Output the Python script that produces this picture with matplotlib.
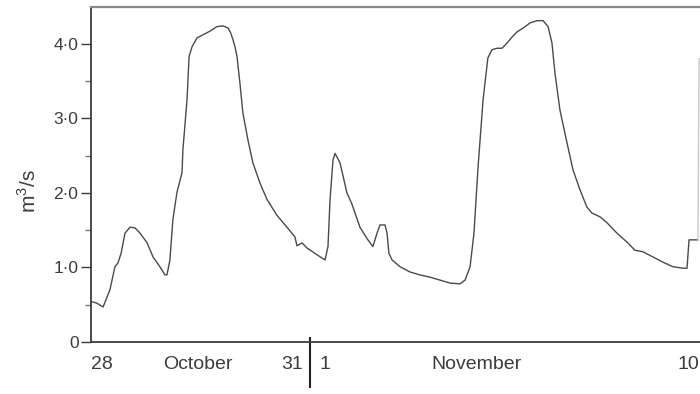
import matplotlib
matplotlib.use("Agg")
import matplotlib.pyplot as plt
import matplotlib.transforms as mtransforms

# hours since 00:00 on 28 October
hours = [0.4, 2.6, 5.3, 8.3, 10.5, 11.8, 13.2, 14.9, 17.1, 19.3, 21.5, 24.6,
         27.2, 30.2, 32.4, 33.3, 34.6, 35.9, 37.7, 39.9, 40.3, 42.1, 43.0,
         44.3, 46.5, 49.1, 52.2, 55.2, 57.9, 60.1, 61.2, 62.3, 63.2, 64.0,
         65.3, 66.6, 68.8, 71.0, 74.1, 77.2, 81.5, 85.9, 89.4, 90.3, 92.5,
         94.7, 99.1, 102.6, 103.9, 104.8, 106.1, 107.0, 109.2, 112.2, 114.4,
         117.9, 121.4, 123.6, 125.4, 126.7, 128.9, 129.8, 130.6, 132.0, 135.5,
         139.8, 144.2, 148.6, 153.0, 157.4, 161.8, 164.0, 166.2, 167.9,
         169.7, 171.9, 174.0, 175.8, 178.0, 180.2, 182.4, 184.6, 186.8,
         189.4, 192.5, 195.5, 198.2, 200.4, 202.1, 203.4, 205.6, 208.7,
         211.3, 214.4, 217.4, 219.6, 223.1, 226.2, 230.6, 235.0, 238.5,
         242.0, 246.4, 250.8, 255.1, 259.5, 261.3, 262.2, 264.8, 266.1]
flow = [0.54, 0.52, 0.47, 0.70, 1.01, 1.06, 1.19, 1.46, 1.54, 1.53, 1.46, 1.33,
        1.14, 1.01, 0.90, 0.90, 1.10, 1.64, 2.01, 2.27, 2.58, 3.25, 3.83,
        3.96, 4.08, 4.12, 4.17, 4.23, 4.24, 4.21, 4.15, 4.05, 3.95, 3.83,
        3.47, 3.07, 2.71, 2.40, 2.13, 1.91, 1.70, 1.54, 1.41, 1.29, 1.33,
        1.26, 1.17, 1.10, 1.28, 1.91, 2.44, 2.53, 2.40, 2.00, 1.85,
        1.54, 1.37, 1.28, 1.46, 1.57, 1.57, 1.46, 1.19, 1.10, 1.01,
        0.94, 0.90, 0.87, 0.83, 0.79, 0.78, 0.83, 1.01, 1.46,
        2.35, 3.25, 3.81, 3.92, 3.94, 3.94, 4.01, 4.09, 4.16,
        4.21, 4.28, 4.31, 4.31, 4.23, 4.01, 3.61, 3.11, 2.67,
        2.31, 2.04, 1.81, 1.73, 1.68, 1.60, 1.46, 1.34, 1.23,
        1.21, 1.14, 1.07, 1.01, 0.99, 0.99, 1.37, 1.37, 1.37]

# the next rise, only faintly printed at the right edge
edge_hours = [266.1, 266.6]
edge_flow = [1.37, 3.8]

day_pos = [4.8, 46.9, 88.1, 102.6, 169.2, 261.7]
day_labels = ["28", "October", "31", "1", "November", "10"]
month_break = 96

ink = "#3c3c3c"
plt.rcParams["font.family"] = ["Liberation Sans", "DejaVu Sans"]
plt.rcParams["mathtext.fontset"] = "custom"
plt.rcParams["mathtext.rm"] = "Liberation Sans"

fig = plt.figure(figsize=(7, 3.94), dpi=100)
ax = fig.add_axes([0.13, 0.132, 0.87, 0.8515])

ax.plot(hours, flow, color="#4a4a4a", lw=1.0)
ax.plot(edge_hours, edge_flow, color="#c8c8c8", lw=1.0, clip_on=False)

ax.set_xlim(0, 267)
ax.set_ylim(0, 4.5)

ax.set_yticks([0, 1, 2, 3, 4])
ax.set_yticklabels(["0", "1·0", "2·0", "3·0", "4·0"])
ax.set_yticks([0.5, 1.5, 2.5, 3.5], minor=True)
ax.tick_params(axis="y", which="major", direction="out", length=7, width=1,
               color=ink, labelsize=12.5, labelcolor=ink, pad=2)
ax.tick_params(axis="y", which="minor", direction="out", length=4, width=1,
               color="#777777")

ax.set_xticks(day_pos)
ax.set_xticklabels(day_labels)
ax.tick_params(axis="x", length=0, labelsize=14, labelcolor=ink, pad=10)

ax.set_ylabel(r"m$^\mathrm{3}$/s", fontsize=15, color=ink)
ax.yaxis.set_label_coords(-0.084, 0.45)

for side in ["left", "bottom"]:
    ax.spines[side].set_color(ink)
    ax.spines[side].set_linewidth(1.3)
ax.spines["top"].set_color("#8a8a8a")
ax.spines["top"].set_linewidth(1.6)
ax.spines["right"].set_visible(False)

trans = mtransforms.blended_transform_factory(ax.transData, ax.transAxes)
ax.plot([month_break, month_break], [0.012, -0.134], color="#222222", lw=1.5,
        transform=trans, clip_on=False)

fig.savefig("out.png", dpi=100)
